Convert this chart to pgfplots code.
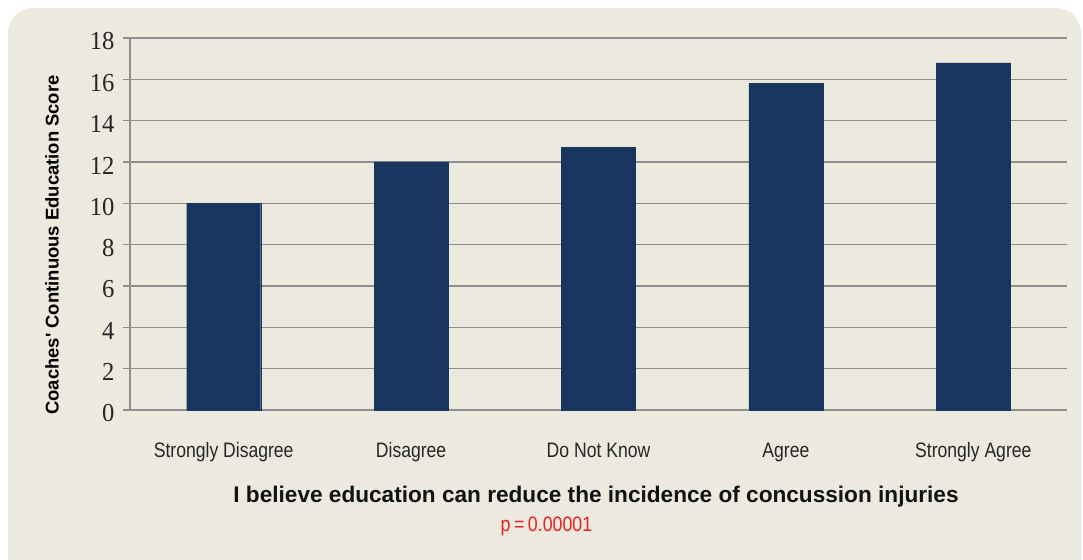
\documentclass[border=0pt]{standalone}
\usepackage{fontspec}
\setmainfont{Liberation Sans}
\newfontfamily\labelfont{Liberation Sans}
\newfontfamily\numfont[FakeStretch=0.95]{Liberation Serif}
\newfontfamily\catfont[FakeStretch=0.84]{Liberation Sans}
\newfontfamily\pfont[FakeStretch=0.85]{Liberation Sans}
\usepackage{pgfplots}
\pgfplotsset{compat=1.18}

\definecolor{panel}{HTML}{ECE9DF}
\definecolor{barblue}{HTML}{18365D}
\definecolor{gridgray}{HTML}{8E8E8E}
\definecolor{pred}{HTML}{E8201E}

\begin{document}
\begin{tikzpicture}[x=1bp,y=1bp]
  \useasboundingbox (0,0) rectangle (1083,560);
  % page and rounded panel
  \begin{scope}
    \clip (0,0) rectangle (1083,560);
    \fill[white] (0,0) rectangle (1083,560);
    \fill[panel, rounded corners=25bp] (8,-40) rectangle (1081,552);
  \end{scope}

  \begin{axis}[
      at={(130bp,150bp)}, anchor=south west,
      scale only axis, width=937bp, height=372bp,
      xmin=-0.5, xmax=4.5, ymin=0, ymax=18,
      axis x line=bottom, axis y line=left,
      axis line style={-, draw=gridgray, line width=1.4bp},
      xtick={0,1,2,3,4},
      xticklabels={Strongly Disagree, Disagree, Do Not Know, Agree, Strongly Agree},
      xtick style={draw=none},
      ytick={0,2,...,18},
      ytick style={draw=gridgray, line width=1.4bp},
      tick align=outside, major tick length=7bp,
      ymajorgrids, grid style={draw=gridgray, line width=1.4bp},
      /pgf/number format/assume math mode=true,
      yticklabel style={font=\numfont\fontsize{26}{26}\selectfont, text=black!85, anchor=east, xshift=-5bp, yshift=-3.5bp},
      xticklabel style={font=\catfont\fontsize{21}{21}\selectfont, text=black!85, anchor=base, yshift=-41bp},
      ybar, bar width=74bp,
      clip=false,
    ]
    \addplot[fill=barblue, draw=barblue] coordinates {
      (0,10.0) (1,12.0) (2,12.7) (3,15.8) (4,16.8)
    };
  \end{axis}

  % axis titles
  \node[rotate=90, font=\labelfont\bfseries\fontsize{18.5}{18.5}\selectfont, text=black] at (52,315) {Coaches' Continuous Education Score};
  \node[anchor=base, font=\labelfont\bfseries\fontsize{22.7}{22.7}\selectfont, text=black!93] at (596,57) {I believe education can reduce the incidence of concussion injuries};
  \node[anchor=base, font=\pfont\fontsize{21}{21}\selectfont, text=pred] at (546.5,28) {p\,=\,0.00001};
\end{tikzpicture}
\end{document}
